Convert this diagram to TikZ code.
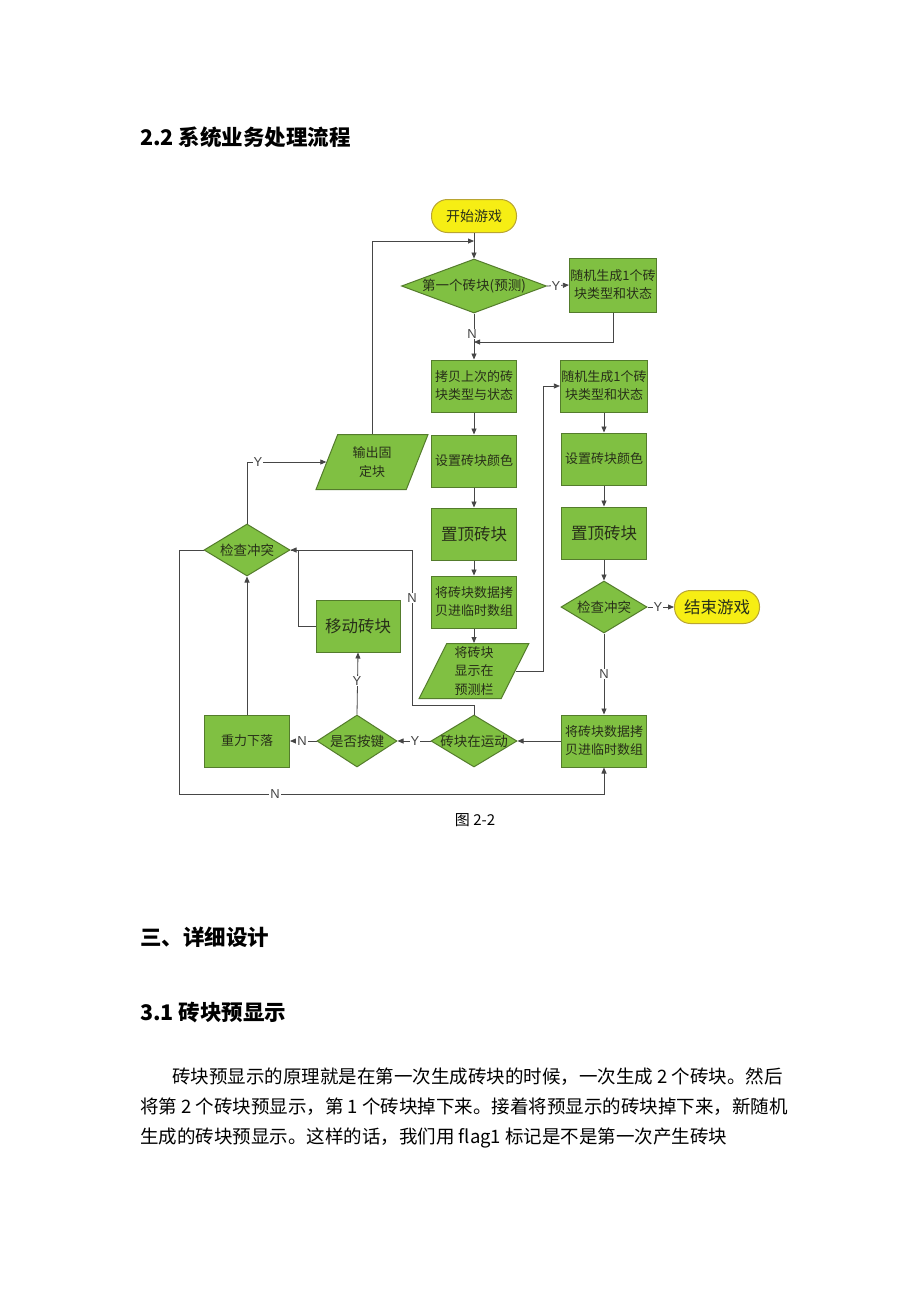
\documentclass[tikz,border=0pt]{standalone}
\usepackage{fontspec}
\setmainfont{Noto Sans CJK SC}
\newfontfamily\latf{Liberation Sans}
\usetikzlibrary{shapes.geometric,arrows.meta}
\definecolor{gfill}{RGB}{128,192,66}
\definecolor{gdraw}{RGB}{84,124,44}
\definecolor{yfill}{RGB}{246,238,20}
\definecolor{ydraw}{RGB}{185,165,50}
\definecolor{lnc}{RGB}{70,70,70}
\definecolor{btxt}{RGB}{40,48,25}
\newcommand\dmk[1]{\makebox[0pt]{#1}}
\tikzset{
  proc/.style={rectangle, draw=gdraw, fill=gfill, line width=1pt, minimum width=85pt, minimum height=52pt, inner sep=1pt, align=center, text=btxt, font=\fontsize{13}{18}\selectfont},
  bigt/.style={font=\fontsize{16.5}{20}\selectfont},
  dec/.style={diamond, draw=gdraw, fill=gfill, line width=1pt, minimum width=86pt, minimum height=52pt, inner sep=0pt, text=btxt, font=\fontsize{13.5}{16}\selectfont},
  io/.style={trapezium, trapezium left angle=68, trapezium right angle=112, trapezium stretches=true, draw=gdraw, fill=gfill, line width=1pt, minimum width=112pt, minimum height=55pt, inner sep=0pt, align=center, text=btxt, font=\fontsize{13}{18.5}\selectfont},
  term/.style={rectangle, rounded corners=16pt, draw=ydraw, fill=yfill, line width=1pt, minimum width=85pt, minimum height=33pt, text=btxt},
  arr/.style={draw=lnc, line width=0.8pt, -{Triangle[length=6pt,width=5pt]}},
  lnk/.style={draw=lnc, line width=0.8pt},
  lab/.style={fill=white, inner sep=1pt, text=lnc, font=\latf\fontsize{13}{13}\selectfont},
  head/.style={anchor=west, inner sep=0pt, font=\bfseries\fontsize{21.5}{24}\selectfont},
  body/.style={anchor=west, inner sep=0pt, font=\fontsize{18.5}{20}\selectfont}
}
\begin{document}
\begin{tikzpicture}[x=1pt,y=-1pt]
\fill[white] (0,0) rectangle (920,1302);
\useasboundingbox (0,0) rectangle (920,1302);

% headings
\node[head] (h1) at (140,137) {2.2 系统业务处理流程};
\node[head] (h2) at (140,937) {三、详细设计};
\node[head] (h3) at (140,1013) {3.1 砖块预显示};

% flowchart nodes
\node[term, font=\fontsize{14}{16}\selectfont] (start) at (474,216) {开始游戏};
\node[dec, minimum width=145pt, minimum height=54pt] (d1) at (474,286) {\dmk{第一个砖块(预测)}};
\node[proc, minimum height=54pt] (r0) at (613,285) {随机生成1个砖\\块类型和状态};

\node[proc] (b1) at (474,386) {拷贝上次的砖\\块类型与状态};
\node[proc] (b2) at (474,461) {设置砖块颜色};
\node[proc, bigt] (b3) at (474,534) {置顶砖块};
\node[proc] (b4) at (474,602) {将砖块数据拷\\贝进临时数组};
\node[io, minimum width=110pt] (p1) at (474,671) {将砖块\\显示在\\预测栏};

\node[proc] (r1) at (604,386) {随机生成1个砖\\块类型和状态};
\node[proc] (r2) at (604,459) {设置砖块颜色};
\node[proc, bigt] (r3) at (604,533) {置顶砖块};
\node[dec] (d2) at (604,607) {\dmk{检查冲突}};
\node[term, bigt] (end) at (717,607) {结束游戏};
\node[proc] (r4) at (604,741) {将砖块数据拷\\贝进临时数组};

\node[dec] (d3) at (474,741) {\dmk{砖块在运动}};
\node[dec, minimum width=80pt] (d4) at (357,741) {\dmk{是否按键}};
\node[proc] (g) at (247,741) {重力下落};
\node[proc, bigt, minimum width=84pt] (mv) at (358,626) {移动砖块};
\node[dec] (d5) at (247,550) {\dmk{检查冲突}};
\node[io] (out) at (372,462) {输出固\\定块};

% helper coordinates
\coordinate (j1) at (474,241);
\coordinate (j2) at (474,342);
\coordinate (c1) at (543,386);
\coordinate (k1) at (412,705);
\coordinate (k2) at (298,626);
\coordinate (k3) at (179,794);

% connectors
\draw[arr] (start) -- (d1);
\draw[arr] (out.north) |- (j1);
\draw[arr] (d1.east) -- (r0.west);
\draw[arr] (r0.south) |- (j2);
\draw[arr] (d1.south) -- (b1.north);
\draw[arr] (b1) -- (b2);
\draw[arr] (b2) -- (b3);
\draw[arr] (b3) -- (b4);
\draw[arr] (b4) -- (p1);
\draw[arr] (p1.east) -| (c1) -- (r1.west);
\draw[arr] (r1) -- (r2);
\draw[arr] (r2) -- (r3);
\draw[arr] (r3) -- (d2);
\draw[arr] (d2.east) -- (end.west);
\draw[arr] (d2.south) -- (r4.north);
\draw[arr] (r4.west) -- (d3.east);
\draw[arr] (d3.west) -- (d4.east);
\draw[arr] (d4.west) -- (g.east);
\draw[arr] (g.north) -- (d5.south);
\draw[arr] (d4.north) -- (mv.south);
\draw[lnk] (mv.west) -- (k2) |- (d5.east);
\draw[arr] (d3.north) |- (k1) |- (d5.east);
\draw[arr] (d5.north) |- (out.west);
\draw[arr] (d5.west) -| (k3) -| (r4.south);

% connector labels
\node[lab] (l1) at (556,286) {Y};
\node[lab] (l2) at (472,334) {N};
\node[lab] (l3) at (658,607) {Y};
\node[lab] (l4) at (604,674) {N};
\node[lab] (l5) at (415,741) {Y};
\node[lab] (l6) at (302,741) {N};
\node[lab] (l7) at (357,681) {Y};
\node[lab] (l8) at (412,598) {N};
\node[lab] (l9) at (275,794) {N};
\node[lab] (l10) at (258,462) {Y};

% caption
\node[inner sep=0pt, font=\fontsize{15}{18}\selectfont] (cap) at (475,820) {图 2-2};

% body text
\node[body] (t1) at (172,1077) {砖块预显示的原理就是在第一次生成砖块的时候，一次生成 2 个砖块。然后};
\node[body] (t2) at (140,1107) {将第 2 个砖块预显示，第 1 个砖块掉下来。接着将预显示的砖块掉下来，新随机};
\node[body] (t3) at (140,1138) {生成的砖块预显示。这样的话，我们用 flag1 标记是不是第一次产生砖块};
\end{tikzpicture}
\end{document}
